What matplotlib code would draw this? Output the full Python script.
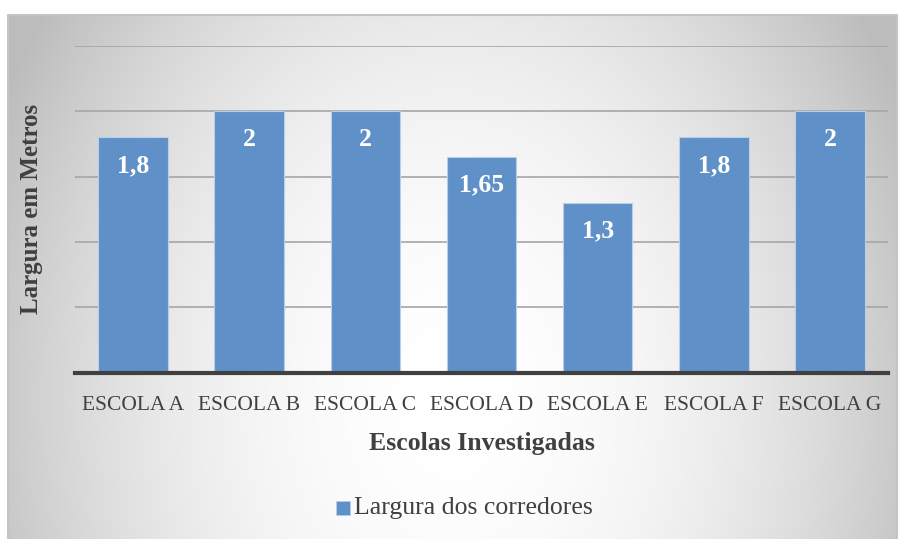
import numpy as np
import matplotlib
matplotlib.use("Agg")
import matplotlib.pyplot as plt
from matplotlib.patches import Rectangle

categories = ["ESCOLA A", "ESCOLA B", "ESCOLA C", "ESCOLA D", "ESCOLA E", "ESCOLA F", "ESCOLA G"]
values = [1.8, 2.0, 2.0, 1.65, 1.3, 1.8, 2.0]
labels = ["1,8", "2", "2", "1,65", "1,3", "1,8", "2"]
series_name = "Largura dos corredores"
xlabel = "Escolas Investigadas"
ylabel = "Largura em Metros"

W, H = 902, 539
fig = plt.figure(figsize=(W / 100, H / 100), dpi=100)
fig.patch.set_facecolor("white")
serif = ["Liberation Serif", "DejaVu Serif"]

# background radial gradient panel (pixel coordinates of the frame: x 8..897, y 15..539)
bg = fig.add_axes([8 / W, 0, 889 / W, (H - 15) / H])
bg.set_axis_off()
px = np.arange(8, 897)
py = np.arange(15, 539)
xx, yy = np.meshgrid(px, py)
r2 = ((xx - 452) / 450.0) ** 2 + ((yy - 400) / 600.0) ** 2
val = np.clip(1.0 - 0.21 * r2, 0.74, 1.0)
img = np.dstack([val, val, val])
bg.imshow(img, extent=[0, 1, 0, 1], aspect="auto", origin="upper", interpolation="bilinear")
bg.plot([0, 0, 1, 1], [0, 1, 1, 0], transform=bg.transAxes, color="#c4c4c4", lw=1.5, clip_on=False)
bg.set_xlim(0, 1)
bg.set_ylim(0, 1)

ax = fig.add_axes([75 / W, (H - 372.5) / H, 813 / W, (372.5 - 46) / H])
ax.patch.set_alpha(0)
x = np.arange(len(categories))
ax.bar(x, values, width=0.6, color="#6090c8", edgecolor="#b8cfea", linewidth=0.8, zorder=3)
ax.set_xlim(-0.5, len(categories) - 0.5)
ax.set_ylim(0, 2.5)
ax.set_yticks([0.5, 1.0, 1.5, 2.0, 2.5])
ax.yaxis.grid(True, color="#a6a6a6", lw=1.2, zorder=1)
ax.tick_params(axis="y", length=0, labelleft=False)
ax.tick_params(axis="x", length=0, pad=17, labelsize=15.5, labelcolor="#404040")
ax.set_xticks(x)
ax.set_xticklabels(categories, fontfamily=serif)
for s in ["top", "right", "left"]:
    ax.spines[s].set_visible(False)
ax.spines["bottom"].set_color("#404040")
ax.spines["bottom"].set_linewidth(3)
ax.spines["bottom"].set_zorder(4)

for xi, v, lab in zip(x, values, labels):
    ax.annotate(lab, (xi, v), xytext=(0, -28), textcoords="offset pixels",
                ha="center", va="center", color="white", fontsize=18.5, fontweight="bold",
                fontfamily=serif, zorder=5)

ax.set_xlabel(xlabel, fontsize=18.5, fontweight="bold", color="#404040", fontfamily=serif, labelpad=12)
fig.text(32 / W, 1 - 209 / H, ylabel, rotation=90, ha="center", va="center", fontsize=18,
         fontweight="bold", color="#404040", fontfamily=serif)

# legend
fig.patches.append(Rectangle((336 / W, 1 - 515 / H), 14 / W, 14 / H, transform=fig.transFigure,
                             facecolor="#6090c8", edgecolor="#b8cfea", lw=0.5))
fig.text(354 / W, 1 - 508 / H, series_name, ha="left", va="center", fontsize=18.5,
         color="#404040", fontfamily=serif)

fig.savefig("out.png", dpi=100)
